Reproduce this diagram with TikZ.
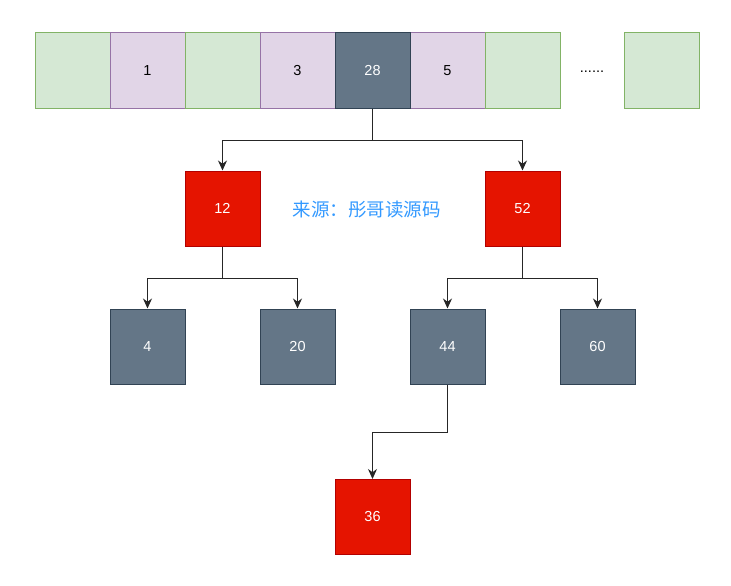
\documentclass[tikz,border=0pt]{standalone}
\usepackage{fontspec}
\setmainfont{Liberation Sans}
\newfontfamily\cjk{Noto Sans CJK SC}
\usepackage{xcolor}
\usetikzlibrary{arrows.meta}
\definecolor{greenfill}{HTML}{D5E8D4}
\definecolor{greenline}{HTML}{82B366}
\definecolor{purplefill}{HTML}{E1D5E7}
\definecolor{purpleline}{HTML}{9673A6}
\definecolor{slatefill}{HTML}{647687}
\definecolor{slateline}{HTML}{314354}
\definecolor{redfill}{HTML}{E51400}
\definecolor{redline}{HTML}{B20000}
\definecolor{srcblue}{HTML}{3399FF}

\begin{document}
\begin{tikzpicture}
  [x=1pt,y=-1pt,
   every node/.style={rectangle,minimum size=75pt,inner sep=0pt,line width=1pt,font=\fontsize{14.5}{17}\selectfont},
   empty/.style={draw=greenline,fill=greenfill},
   used/.style={draw=purpleline,fill=purplefill},
   black/.style={draw=slateline,fill=slatefill,text=white},
   red/.style={draw=redline,fill=redfill,text=white},
   link/.style={draw=black!85,line width=1.2pt,-{Stealth[length=10pt,width=9pt]}}]
  \useasboundingbox (0,0) rectangle (731,586);

  % the array of buckets
  \node[empty] (a1) at (72.5,70.5)  {};
  \node[used]  (a2) at (147.5,70.5) {1};
  \node[empty] (a3) at (222.5,70.5) {};
  \node[used]  (a4) at (297.5,70.5) {3};
  \node[used]  (a6) at (447.5,70.5) {5};
  \node[empty] (a7) at (522.5,70.5) {};
  \node[black] (28) at (372.5,70.5) {28};
  \node[minimum size=0pt] (dots) at (592,72) {......};
  \node[empty] (a8) at (661.5,70.5) {};

  % the tree hanging from bucket 28
  \node[red]   (12) at (222.5,208.5) {12};
  \node[red]   (52) at (522.5,208.5) {52};
  \node[black] (4)  at (147.5,346.5) {4};
  \node[black] (20) at (297.5,346.5) {20};
  \node[black] (44) at (447.5,346.5) {44};
  \node[black] (60) at (597.5,346.5) {60};
  \node[red]   (36) at (372.5,517)   {36};

  \node[minimum size=0pt,text=srcblue,font=\cjk\fontsize{18.5}{21}\selectfont] (src) at (366.5,210) {来源：彤哥读源码};

  \foreach \from/\to/\h in {28/12/32,28/52/32,12/4/32,12/20/32,52/44/32,52/60/32,44/36/48}
    \draw[link] (\from.south) -- ++(0,\h) -| (\to.north);

\end{tikzpicture}
\end{document}
